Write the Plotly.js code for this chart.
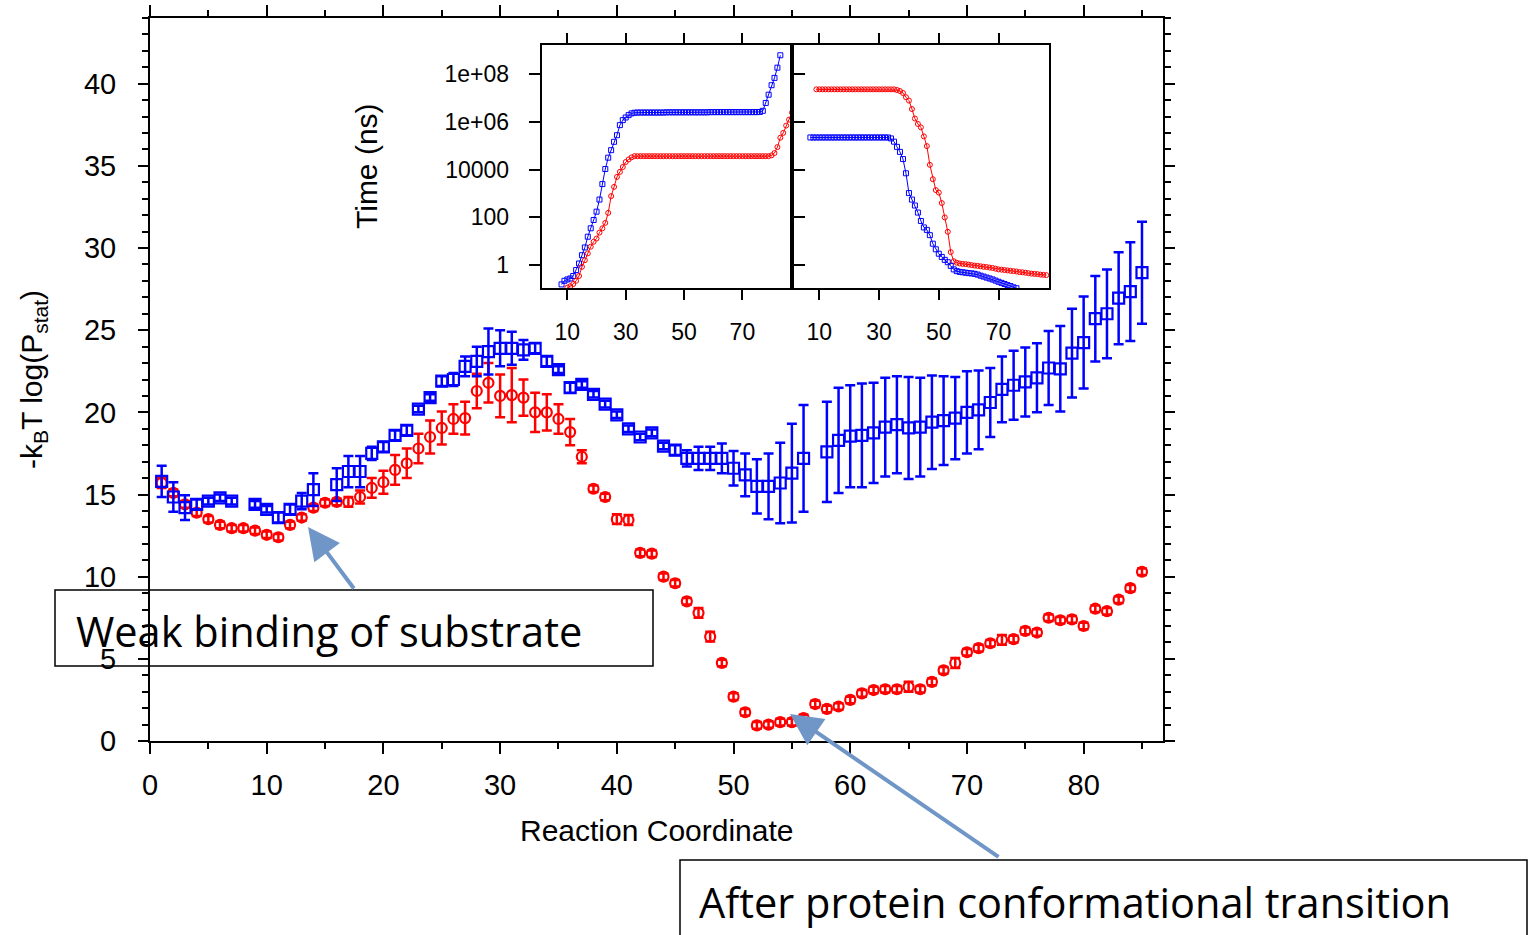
<!DOCTYPE html>
<html>
<head>
<meta charset="utf-8">
<script src="https://cdn.plot.ly/plotly-3.0.1.min.js"></script>
<style>html,body{margin:0;padding:0;background:#fff;}#chart{width:1531px;height:935px;}</style>
</head>
<body>
<div id="chart"></div>
<script>
// ---------- DATA ----------
const coord = [1,2,3,4,5,6,7,8,9,10,11,12,13,14,15,16,17,18,19,20,21,22,23,24,25,26,27,28,29,30,
  31,32,33,34,35,36,37,38,39,40,41,42,43,44,45,46,47,48,49,50,51,52,53,54,55,56,57,58,59,60,
  61,62,63,64,65,66,67,68,69,70,71,72,73,74,75,76,77,78,79,80,81,82,83,84,85,86,87];

const blueFE = [15.8,14.85,14.2,14.4,14.6,14.8,14.6,null,14.4,14.1,
  13.6,14.1,14.6,15.3,null,15.6,16.4,16.4,17.5,17.9,
  18.6,18.9,20.2,20.9,21.9,22.0,22.8,23.1,23.7,23.9,
  23.9,23.8,23.9,23.1,22.6,21.5,21.7,21.1,20.5,19.85,
  19.0,18.5,18.75,17.95,17.7,17.2,17.2,17.2,17.2,16.6,
  16.2,15.5,15.5,15.7,16.3,17.2,null,17.6,18.3,18.55,
  18.6,18.75,19.1,19.25,19.05,19.1,19.4,19.5,19.65,20.0,
  20.15,20.6,21.4,21.65,21.85,22.1,22.7,22.65,23.6,24.25,
  25.7,26.0,26.95,27.35,28.5];
const blueErr = [0.95,0.9,0.75,0.3,0.2,0.2,0.2,null,0.2,0.2,
  0.3,0.3,0.5,1.0,null,1.0,0.95,0.95,0.4,0.3,
  0.3,0.3,0.2,0.2,0.3,0.4,0.6,0.9,1.4,1.1,
  1.0,0.6,0.3,0.3,0.2,0.3,0.2,0.2,0.2,0.2,
  0.2,0.2,0.2,0.2,0.3,0.5,0.7,0.7,0.9,1.05,
  1.3,1.65,2.0,2.45,3.0,3.25,null,3.05,3.2,3.1,
  3.15,3.05,3.0,2.95,3.1,3.0,2.85,2.7,2.5,2.5,
  2.4,2.1,2.0,2.1,2.1,2.1,2.25,2.6,2.7,2.8,
  2.6,2.7,2.8,3.0,3.1];

const redFE = [15.7,15.1,14.4,13.9,13.5,13.15,12.95,12.95,12.8,12.55,
  12.4,13.15,13.6,14.2,14.5,14.55,14.55,14.85,15.4,15.75,
  16.5,16.9,17.8,18.5,19.05,19.6,19.65,21.3,21.8,21.0,
  21.05,20.9,20.0,20.0,19.6,18.8,17.3,15.35,14.85,13.5,
  13.45,11.45,11.4,10.0,9.6,8.5,7.8,6.35,4.75,2.7,
  1.75,0.95,1.0,1.15,1.15,1.4,2.25,1.95,2.1,2.5,
  2.9,3.1,3.15,3.15,3.3,3.15,3.6,4.3,4.75,5.4,
  5.65,5.95,6.15,6.2,6.7,6.6,7.5,7.35,7.4,7.0,
  8.05,7.9,8.6,9.3,10.3];
const redErr = [0.3,0.2,0.2,0.2,0.2,0.2,0.2,0.2,0.2,0.2,
  0.2,0.2,0.2,0.2,0.2,0.2,0.3,0.4,0.6,0.7,
  0.9,0.9,0.9,1.0,1.0,0.9,1.0,1.05,1.2,1.3,
  1.65,1.1,1.2,1.1,0.9,0.8,0.4,0.2,0.2,0.3,
  0.3,0.2,0.2,0.2,0.2,0.2,0.3,0.3,0.2,0.2,
  0.2,0.2,0.2,0.2,0.2,0.2,0.2,0.2,0.2,0.2,
  0.2,0.2,0.2,0.2,0.3,0.2,0.2,0.2,0.3,0.2,
  0.2,0.2,0.3,0.2,0.2,0.2,0.2,0.2,0.2,0.2,
  0.2,0.2,0.2,0.2,0.2];

// Inset, left panel (times in ns); blue starts at coordinate 8, red at 10
const insetLeftBlue = [0.155,0.22,0.25,0.275,0.35,0.62,1.17,2.6,5.5,15.5,
  35,78,174,560,2500,10700,3.2e4,6.6e4,1.48e5,2.8e5,
  7.4e5,1.2e6,1.55e6,1.95e6,2.3e6,2.45e6,
  2.5e6,2.5e6,2.5e6,2.5e6,2.5e6,2.5e6,2.5e6,2.5e6,2.5e6,2.5e6,
  2.55e6,2.55e6,2.55e6,2.55e6,2.55e6,2.55e6,2.55e6,2.55e6,2.55e6,2.55e6,
  2.55e6,2.55e6,2.55e6,2.55e6,2.55e6,2.6e6,2.6e6,2.6e6,2.6e6,2.6e6,
  2.6e6,2.6e6,2.6e6,2.6e6,2.6e6,2.6e6,2.6e6,2.6e6,2.6e6,2.6e6,
  2.6e6,2.6e6,2.65e6,
  2.95e6,6.3e6,1.4e7,3.5e7,7.1e7,1.9e8,6.3e8];
const insetLeftRed = [0.115,0.13,0.16,0.22,0.35,0.85,1.6,3.1,5.9,9.5,
  13,23,35,59,155,780,1900,5000,8100,1.3e4,2.1e4,2.7e4,3.3e4,
  3.7e4,3.7e4,3.7e4,3.7e4,3.7e4,3.7e4,3.7e4,3.7e4,3.7e4,3.7e4,
  3.7e4,3.7e4,3.7e4,3.7e4,3.7e4,3.7e4,3.7e4,3.7e4,3.7e4,3.7e4,
  3.7e4,3.7e4,3.7e4,3.7e4,3.7e4,3.7e4,3.7e4,3.7e4,3.7e4,3.7e4,
  3.7e4,3.7e4,3.7e4,3.7e4,3.7e4,3.7e4,3.7e4,3.7e4,3.7e4,3.7e4,
  3.7e4,3.7e4,3.7e4,3.7e4,3.7e4,3.7e4,3.7e4,
  4.0e4,5.0e4,8.9e4,2.2e5,3.5e5,7.1e5,1.26e6,2.5e6];
// Inset, right panel; red starts at coordinate 9, blue at 7
const insetRightRed = [2.35e7,2.35e7,2.35e7,2.35e7,2.35e7,2.35e7,2.35e7,2.35e7,2.35e7,2.35e7,
  2.35e7,2.35e7,2.35e7,2.35e7,2.35e7,2.35e7,2.35e7,2.35e7,2.35e7,2.35e7,
  2.35e7,2.35e7,2.35e7,2.35e7,2.35e7,2.35e7,2.35e7,
  2.2e7,2.0e7,1.65e7,1.1e7,7.9e6,3.5e6,1.4e6,8.3e5,6.0e5,2.5e5,
  9.8e4,1.6e4,4000,1400,1100,400,100,25,3.5,1.45,
  1.26,1.17,1.12,1.10,1.05,1.0,0.955,0.93,0.89,0.85,
  0.83,0.79,0.76,0.71,0.66,0.645,0.62,0.60,0.575,0.56,
  0.54,0.51,0.50,0.48,0.46,0.44,0.43,0.42,0.40,0.39,0.38];
const insetRightBlue = [2.25e5,2.25e5,2.25e5,2.25e5,2.25e5,2.25e5,2.25e5,2.25e5,2.25e5,2.25e5,
  2.25e5,2.25e5,2.25e5,2.25e5,2.25e5,2.25e5,2.25e5,2.25e5,2.25e5,2.25e5,
  2.25e5,2.25e5,2.25e5,2.25e5,2.25e5,2.25e5,2.25e5,
  2.05e5,1.5e5,9.1e4,5.6e4,2.8e4,7100,1050,560,316,160,
  71,38,30,18,7.9,4.6,3.0,2.2,1.66,1.32,
  0.93,0.66,0.56,0.52,0.50,0.48,0.46,0.45,0.43,0.40,
  0.36,0.33,0.30,0.275,0.25,0.224,0.20,0.18,0.162,0.145,0.132,0.117,0.107];

const mainXTicks = [0,10,20,30,40,50,60,70,80];
const mainYTicks = [0,5,10,15,20,25,30,35,40];
const insetXTicks = [10,30,50,70];
const insetYTicks = [1,100,10000,1e6,1e8];
const insetYTickText = ['1','100','10000','1e+06','1e+08'];

// ---------- LAYOUT HELPERS (pixel -> paper) ----------
const L=150, R=1163, T=18, B=741;
const px = v => (v-L)/(R-L);
const py = v => (B-v)/(B-T);

const BLUE='#0000ff', RED='#ff0000', ARROW='#6f96c6';
const FONT='"Liberation Sans", Arial, Helvetica, sans-serif';
const BOXFONT='"Open Sans", Lato, sans-serif';

const traces = [
  {x: coord.slice(0, redFE.length), y: redFE, type:'scatter', mode:'markers',
   marker:{symbol:'circle-open', size:10, color:RED, line:{width:2.2, color:RED}},
   error_y:{type:'data', array:redErr, visible:true, color:RED, thickness:2.5, width:5},
   xaxis:'x', yaxis:'y', cliponaxis:false},
  {x: coord.slice(0, blueFE.length), y: blueFE, type:'scatter', mode:'markers',
   marker:{symbol:'square-open', size:11, color:BLUE, line:{width:2.2, color:BLUE}},
   error_y:{type:'data', array:blueErr, visible:true, color:BLUE, thickness:2.5, width:5},
   xaxis:'x', yaxis:'y', cliponaxis:false},
  {x: coord.slice(7, 7+insetLeftBlue.length), y: insetLeftBlue, type:'scatter', mode:'lines+markers',
   line:{color:BLUE, width:1}, marker:{symbol:'square-open', size:5, color:BLUE, line:{width:1}},
   xaxis:'x2', yaxis:'y2'},
  {x: coord.slice(9, 9+insetLeftRed.length), y: insetLeftRed, type:'scatter', mode:'lines+markers',
   line:{color:RED, width:1}, marker:{symbol:'circle-open', size:5, color:RED, line:{width:1}},
   xaxis:'x2', yaxis:'y2'},
  {x: coord.slice(8, 8+insetRightRed.length), y: insetRightRed, type:'scatter', mode:'lines+markers',
   line:{color:RED, width:1}, marker:{symbol:'circle-open', size:5, color:RED, line:{width:1}},
   xaxis:'x3', yaxis:'y3'},
  {x: coord.slice(6, 6+insetRightBlue.length), y: insetRightBlue, type:'scatter', mode:'lines+markers',
   line:{color:BLUE, width:1}, marker:{symbol:'square-open', size:5, color:BLUE, line:{width:1}},
   xaxis:'x3', yaxis:'y3'}
];

const insetTop = py(45), insetBot = py(288);
const axBase = {showgrid:false, zeroline:false, showline:true, linecolor:'#000', linewidth:2,
  ticks:'outside', tickcolor:'#000', tickwidth:2, mirror:'ticks'};

const layout = {
  width:1531, height:935,
  margin:{l:L, r:1531-R, t:T, b:935-B, pad:0},
  paper_bgcolor:'#fff', plot_bgcolor:'rgba(0,0,0,0)',
  showlegend:false,
  font:{family:FONT, color:'#000'},
  xaxis: Object.assign({}, axBase, {domain:[0,1], range:[0,86.8], tickvals:mainXTicks, ticklen:11,
    tickfont:{size:29, family:FONT}, ticklabelstandoff:6,
    minor:{dtick:5, tick0:0, ticks:'outside', ticklen:6, tickwidth:2, tickcolor:'#000'}, anchor:'y'}),
  yaxis: Object.assign({}, axBase, {domain:[0,1], range:[0,44], tickvals:mainYTicks, ticklen:10,
    tickfont:{size:29, family:FONT}, ticklabelstandoff:16,
    minor:{dtick:1, tick0:0, ticks:'outside', ticklen:6, tickwidth:2, tickcolor:'#000'}, anchor:'x'}),
  xaxis2: Object.assign({}, axBase, {domain:[px(541.7), px(791.7)], range:[1.2,86.9], tickvals:insetXTicks,
    ticklen:10, tickfont:{size:23, family:FONT}, ticklabelstandoff:12, anchor:'y2'}),
  yaxis2: Object.assign({}, axBase, {domain:[insetBot, insetTop], type:'log', range:[-0.96, 9.23],
    tickvals:insetYTicks, ticktext:insetYTickText, ticklen:11, tickfont:{size:23, family:FONT},
    ticklabelstandoff:15, anchor:'x2'}),
  xaxis3: Object.assign({}, axBase, {domain:[px(792.3), px(1049)], range:[0.94,86.9], tickvals:insetXTicks,
    ticklen:10, tickfont:{size:23, family:FONT}, ticklabelstandoff:12, anchor:'y3'}),
  yaxis3: {domain:[insetBot, insetTop], type:'log', range:[-0.96, 9.23], showgrid:false, zeroline:false,
    showline:true, linecolor:'#000', linewidth:2, mirror:true, ticks:'', showticklabels:false, anchor:'x3'},
  shapes:[
    {type:'rect', xref:'paper', yref:'paper', x0:px(55), x1:px(653), y0:py(666), y1:py(590),
     line:{color:'#000', width:1.5}, fillcolor:'rgba(0,0,0,0)', layer:'above'},
    {type:'rect', xref:'paper', yref:'paper', x0:px(680), x1:px(1527), y0:py(945), y1:py(860),
     line:{color:'#000', width:1.5}, fillcolor:'rgba(0,0,0,0)', layer:'above'}
  ],
  annotations:[
    {xref:'paper', yref:'paper', x:px(657), y:py(830), text:'Reaction Coordinate', showarrow:false,
     font:{size:30, family:FONT}, xanchor:'center', yanchor:'middle'},
    {xref:'paper', yref:'paper', x:px(33), y:py(380), text:'-k<sub>B</sub>T log(P<sub>stat</sub>)', showarrow:false,
     textangle:-90, font:{size:30, family:FONT}, xanchor:'center', yanchor:'middle'},
    {xref:'paper', yref:'paper', x:px(366), y:py(166), text:'Time (ns)', showarrow:false,
     textangle:-90, font:{size:30, family:FONT}, xanchor:'center', yanchor:'middle'},
    {xref:'paper', yref:'paper', x:px(74), y:py(631), text:'Weak binding of substrate', showarrow:false,
     font:{size:41.5, family:BOXFONT}, xanchor:'left', yanchor:'middle'},
    {xref:'paper', yref:'paper', x:px(697), y:py(902), text:'After protein conformational transition', showarrow:false,
     font:{size:41.5, family:BOXFONT}, xanchor:'left', yanchor:'middle'},
    {xref:'paper', yref:'paper', x:px(308), y:py(527), text:'', showarrow:true, ax:47, ay:63,
     arrowcolor:ARROW, arrowwidth:4, arrowhead:2, arrowsize:1.6, standoff:0},
    {xref:'paper', yref:'paper', x:px(790), y:py(714), text:'', showarrow:true, ax:210, ay:144,
     arrowcolor:ARROW, arrowwidth:4, arrowhead:2, arrowsize:1.6, standoff:0}
  ]
};

Plotly.newPlot('chart', traces, layout, {displayModeBar:false, staticPlot:true});
</script>
</body>
</html>
